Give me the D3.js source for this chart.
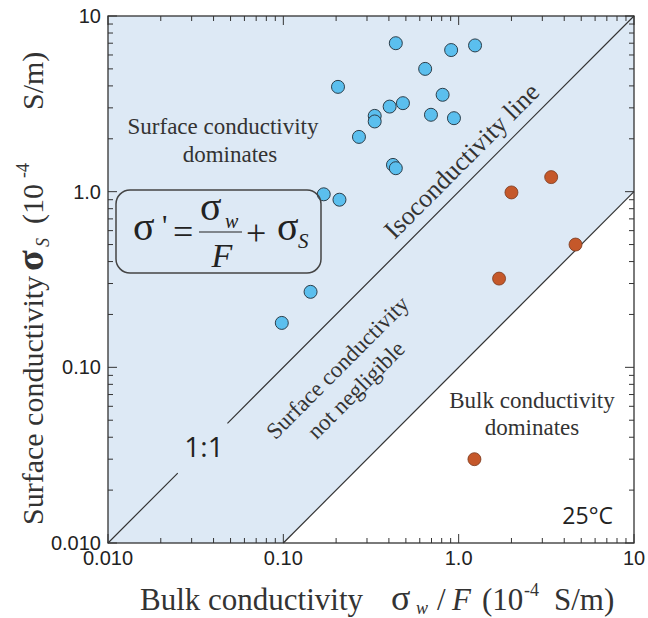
<!DOCTYPE html>
<html><head><meta charset="utf-8">
<script src="https://cdn.jsdelivr.net/npm/d3@7"></script>
<style>body{margin:0;background:#fff}svg{display:block}</style>
</head><body>
<svg id="c" width="648" height="618"></svg>
<script>
// ---- data ----
const blueX = [0.438,0.906,1.24,0.644,0.205,0.81,0.404,0.481,0.332,0.332,0.695,0.94,0.27,0.422,0.438,0.170,0.209,0.143,0.098];
const blueY = [7.0,6.4,6.8,5.0,3.95,3.56,3.05,3.19,2.70,2.51,2.74,2.62,2.05,1.42,1.36,0.966,0.90,0.269,0.179];
const orangeX = [3.37,2.0,4.64,1.70,1.23];
const orangeY = [1.21,0.99,0.50,0.32,0.030];
const majorTicks = [0.01,0.1,1,10];
const tickLabels = ["0.010","0.10","1.0","10"];
const isoLine = [[0.01,0.01],[0.025,0.025],null,[0.048,0.048],[10,10]];
const bulkLine = [[0.1,0.01],[10,1]];
const shaded = [[0.01,0.01],[0.01,10],[10,10],[10,1],[0.1,0.01]];

const svg = d3.select("#c");
const L=108,R=634,T=16,B=543;
const x = d3.scaleLog().domain([0.01,10]).range([L,R]);
const y = d3.scaleLog().domain([0.01,10]).range([B,T]);
const ink="#333";
const serif="'Liberation Serif','Times New Roman',serif";
const sans="'Liberation Sans',Arial,sans-serif";
const myriad="'Open Sans','Noto Sans',sans-serif";

// shaded region
svg.append("path").attr("d", d3.line().x(d=>x(d[0])).y(d=>y(d[1]))(shaded)+"Z")
  .attr("fill","#dde9f5");

// lines
const ln = d3.line().defined(d=>d!==null).x(d=>x(d[0])).y(d=>y(d[1]));
svg.append("path").attr("d",ln(isoLine)).attr("fill","none").attr("stroke",ink).attr("stroke-width",1.2);
svg.append("path").attr("d",ln(bulkLine)).attr("fill","none").attr("stroke",ink).attr("stroke-width",1.2);

// frame
svg.append("rect").attr("x",L).attr("y",T).attr("width",R-L).attr("height",B-T)
  .attr("fill","none").attr("stroke",ink).attr("stroke-width",1.3);

// ticks
const minor=[];
[0.01,0.1,1].forEach(d=>{for(let k=2;k<=9;k++) minor.push(+(d*k).toPrecision(3));});
const tg = svg.append("g").attr("stroke",ink).attr("stroke-width",1);
function tick(v,len){
  tg.append("line").attr("x1",x(v)).attr("x2",x(v)).attr("y1",B).attr("y2",B-len);
  tg.append("line").attr("x1",x(v)).attr("x2",x(v)).attr("y1",T).attr("y2",T+len);
  tg.append("line").attr("y1",y(v)).attr("y2",y(v)).attr("x1",L).attr("x2",L+len);
  tg.append("line").attr("y1",y(v)).attr("y2",y(v)).attr("x1",R).attr("x2",R-len);
}
minor.forEach(v=>tick(v,5));
majorTicks.forEach(v=>tick(v,9));

// tick labels
majorTicks.forEach((v,i)=>{
  svg.append("text").attr("x",x(v)).attr("y",565).attr("text-anchor","middle")
    .attr("font-family",sans).attr("font-size",20).attr("fill","#222").text(tickLabels[i]);
  svg.append("text").attr("x",101).attr("y",y(v)+7).attr("text-anchor","end")
    .attr("font-family",sans).attr("font-size",20).attr("fill","#222").text(tickLabels[i]);
});

// points
svg.append("g").selectAll("circle").data(blueX.map((v,i)=>[v,blueY[i]])).join("circle")
  .attr("cx",d=>x(d[0])).attr("cy",d=>y(d[1])).attr("r",6.5)
  .attr("fill","#5bbfee").attr("stroke","#2c3e4a").attr("stroke-width",1);
svg.append("g").selectAll("circle").data(orangeX.map((v,i)=>[v,orangeY[i]])).join("circle")
  .attr("cx",d=>x(d[0])).attr("cy",d=>y(d[1])).attr("r",6.5)
  .attr("fill","#c5582a").attr("stroke","#7a3a1e").attr("stroke-width",0.8);

// helper
function txt(s,xx,yy,opt={}){
  const t=svg.append("text").attr("x",xx).attr("y",yy)
    .attr("font-family",opt.family||serif).attr("font-size",opt.size||23)
    .attr("fill",opt.fill||"#333").attr("text-anchor",opt.anchor||"start").text(s);
  if(opt.italic) t.attr("font-style","italic");
  if(opt.weight) t.attr("font-weight",opt.weight);
  if(opt.rot!==undefined) t.attr("transform",`rotate(${opt.rot},${xx},${yy})`);
  return t;
}

// region labels
txt("Surface conductivity",223,134,{anchor:"middle"});
txt("dominates",230,162,{anchor:"middle"});
txt("Bulk conductivity",532,408,{anchor:"middle"});
txt("dominates",532,435,{anchor:"middle"});
const ang = -Math.atan2(y(0.01)-y(10),x(10)-x(0.01))*180/Math.PI;
// iso label
{
  const px=x(1),py=y(1);
  const u=24, v=-11, a=ang*Math.PI/180;
  const cx=px+u*Math.cos(a)-v*Math.sin(a), cy=py+u*Math.sin(a)+v*Math.cos(a);
  txt("Isoconductivity line",cx,cy,{anchor:"middle",size:26,rot:ang});
}
// surface not negligible
txt("Surface conductivity",337.5,367.5,{anchor:"middle",rot:ang}).attr("dy","0.33em");
txt("not negligible",356,390,{anchor:"middle",rot:ang}).attr("dy","0.33em");
txt("1:1",204,457,{anchor:"middle",family:myriad,size:28,fill:"#222"});
txt("25°C",613,524,{anchor:"end",family:myriad,size:23,fill:"#222"});

// formula box
svg.append("rect").attr("x",116).attr("y",190).attr("width",205).attr("height",83).attr("rx",14)
  .attr("fill","none").attr("stroke","#444").attr("stroke-width",1.5);
txt("σ",133,240,{size:40,fill:"#222"});
txt("'",162,235,{size:30,fill:"#222"});
txt("=",173,244,{size:36,fill:"#222"});
txt("σ",200,220,{size:40,fill:"#222"});
txt("w",225,228,{size:20,italic:true,fill:"#222"});
svg.append("line").attr("x1",199).attr("x2",242).attr("y1",232).attr("y2",232).attr("stroke","#222").attr("stroke-width",1.2);
txt("F",222,267,{size:34,italic:true,anchor:"middle",fill:"#222"});
txt("+",246,245,{size:36,fill:"#222"});
txt("σ",277,240,{size:40,fill:"#222"});
txt("S",298,248,{size:21,italic:true,fill:"#222"});

// x axis label
txt("Bulk conductivity",140,610,{size:31});
txt("σ",391,610,{size:36});
txt("w",416,614,{size:18,italic:true});
txt("/",437,610,{size:31});
txt("F",452,610,{size:31,italic:true});
txt("(10",482,610,{size:31});
txt("-4",524,596,{size:18});
txt("S/m)",554,610,{size:31});

// y axis label (rotated)
{
  const g=svg.append("g").attr("transform","translate(43,0) rotate(-90)");
  function yt(s,pos,off,o={}){
    const t=g.append("text").attr("x",-pos).attr("y",off).attr("font-family",serif)
      .attr("font-size",o.size||30).attr("fill","#333").text(s);
    if(o.italic) t.attr("font-style","italic");
    if(o.weight) t.attr("font-weight",o.weight);
  }
  yt("Surface conductivity",525,0);
  yt("σ",271,0,{size:38,weight:"bold"});
  yt("S",247,6,{size:18,italic:true});
  yt("(10",224,0);
  yt("-4",178,-14,{size:18});
  yt("S/m)",110,0);
}
</script>
</body></html>
